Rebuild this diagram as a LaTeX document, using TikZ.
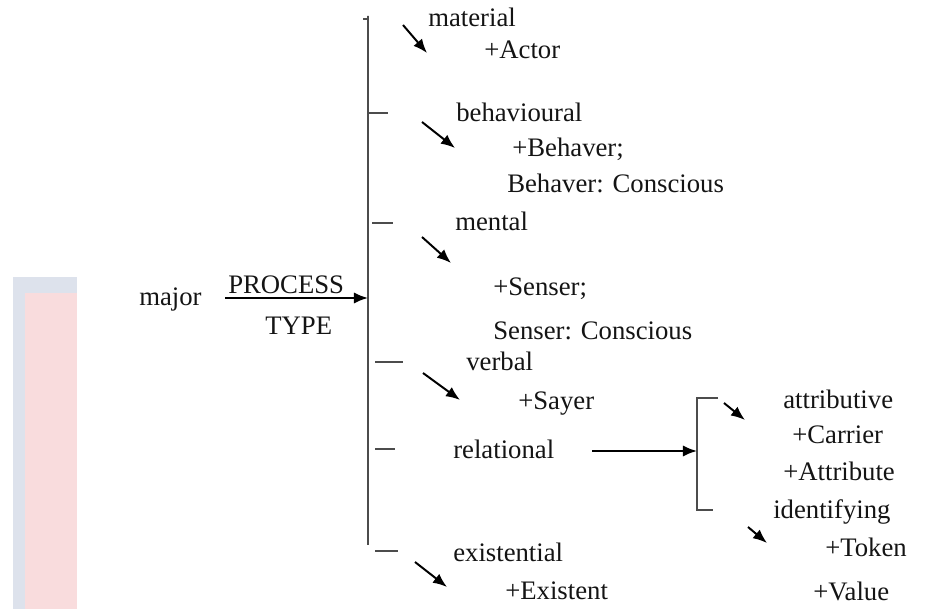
\documentclass[tikz,border=0pt]{standalone}
\usepackage{fontspec}
\setmainfont{Liberation Serif}
\usetikzlibrary{arrows.meta}
\definecolor{bandblue}{HTML}{DDE2EC}
\definecolor{bandpink}{HTML}{F9DCDD}

\begin{document}
\begin{tikzpicture}[x=0.025cm,y=-0.025cm,>={Latex[length=10pt,width=8pt]},
  lbl/.style={anchor=west,inner sep=0pt,text=black!92,yshift=-0.12cm,
    font=\fontsize{19}{22}\selectfont,text height=1.45ex,text depth=0.35ex},
  brk/.style={line width=1.4pt,draw=black!70},
  arr/.style={->,line width=1.4pt}]
  \useasboundingbox (0,0) rectangle (930,609);
  % page band on the left
  \fill[bandblue] (13,277) rectangle (77,609);
  \fill[bandpink] (25,293) rectangle (77,609);

  \node[lbl] (major) at (139,297) {major};
  \node[lbl] (proc) at (228,285) {PROCESS};
  \node[lbl] (type) at (265,326) {TYPE};

  % main bracket
  \coordinate (top) at (368,16);
  \coordinate (bot) at (368,545);
  \coordinate (mid) at (368,298);
  \coordinate (mstart) at (225,298);
  \draw[brk] (363,19) -| (top) -- (bot);
  \draw[brk] (368,113) -- (388,113);
  \draw[brk] (372,223) -- (393,223);
  \draw[brk] (375,362) -- (403,362);
  \draw[brk] (375,449) -- (395,449);
  \draw[brk] (375,551) -- (398,551);
  \draw[arr] (mstart) -- (mid);

  \node[lbl] (mat) at (428,18) {material};
  \node[lbl] (actor) at (484,50) {+Actor};
  \node[lbl] (beh) at (456,113) {behavioural};
  \node[lbl] (behaver) at (512,148) {+Behaver;};
  \node[lbl] (behc) at (507,184) {Behaver: Conscious};
  \node[lbl] (men) at (455,222) {mental};
  \node[lbl] (senser) at (493,287) {+Senser;};
  \node[lbl] (senc) at (493,331) {Senser: Conscious};
  \node[lbl] (verb) at (466,362) {verbal};
  \node[lbl] (sayer) at (518,401) {+Sayer};
  \node[lbl] (rel) at (453,450) {relational};
  \node[lbl] (exi) at (453,553) {existential};
  \node[lbl] (existent) at (505,591) {+Existent};

  % small arrows
  \draw[arr] (403,25) -- (427,53);
  \draw[arr] (422,122) -- (455,148);
  \draw[arr] (422,237) -- (451,263);
  \draw[arr] (423,373) -- (460,400);
  \draw[arr] (415,562) -- (447,587);

  % relational bracket
  \coordinate (rtop) at (697,398);
  \coordinate (rbot) at (697,510);
  \coordinate (rmid) at (697,451);
  \coordinate (rstart) at (592,451);
  \draw[brk] (718,398) -- (rtop) -- (rbot) -- (713,510);
  \draw[arr] (rstart) -- (rmid);

  \node[lbl] (attr) at (783,400) {attributive};
  \node[lbl] (carrier) at (792,435) {+Carrier};
  \node[lbl] (attribute) at (783,472) {+Attribute};
  \node[lbl] (ident) at (773,510) {identifying};
  \node[lbl] (token) at (825,548) {+Token};
  \node[lbl] (value) at (813,592) {+Value};
  \draw[arr] (724,403) -- (745,420);
  \draw[arr] (748,527) -- (767,543);
\end{tikzpicture}
\end{document}
